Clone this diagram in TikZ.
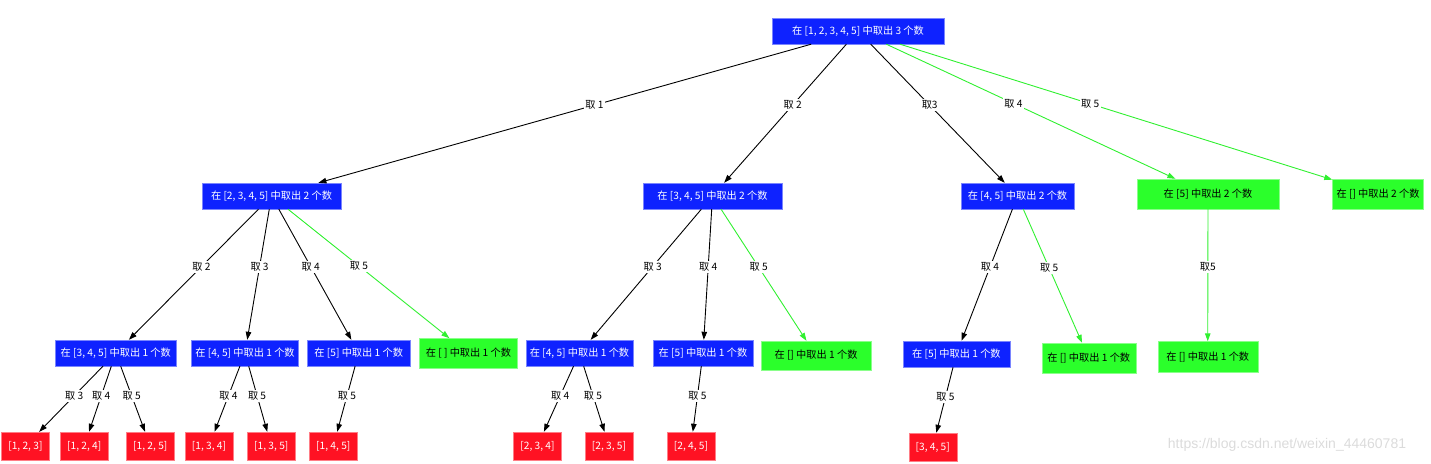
\documentclass[tikz,border=0pt]{standalone}
\usepackage{fontspec}
\newfontfamily\cjk{Noto Sans CJK SC}
\newfontfamily\wmfont{Liberation Sans}
\usepackage{tikz}
\usetikzlibrary{arrows.meta}
\definecolor{boxblue}{RGB}{14,34,255}
\definecolor{boxred}{RGB}{255,18,35}
\definecolor{boxgreen}{RGB}{43,255,43}
\definecolor{edgegreen}{RGB}{48,240,48}

\begin{document}
\begin{tikzpicture}[x=1pt,y=-1pt,
  every node/.style={font=\cjk\fontsize{10.2}{12}\selectfont},
  bluebox/.style={rectangle,fill=boxblue,draw=boxblue!55!white,text=white,minimum height=26pt,inner sep=0pt},
  greenbox/.style={rectangle,fill=boxgreen,draw=boxgreen!55!white,text=black,minimum height=30pt,inner sep=0pt},
  redbox/.style={rectangle,fill=boxred,draw=boxred!55!white,text=white,minimum width=48pt,minimum height=28pt,inner sep=0pt},
  pick/.style={line width=0.9pt,-{Triangle[length=8pt,width=5.5pt]}},
  pickg/.style={pick,draw=edgegreen},
  lbl/.style={fill=white,inner sep=1.5pt,pos=0.45,text=black}]
\useasboundingbox (0,0) rectangle (1431,463);

% root
\node[bluebox,minimum width=172pt] (root) at (858,31) {在 [1, 2, 3, 4, 5] 中取出 3 个数};

% level 1
\node[bluebox,minimum width=139pt] (A) at (271.5,196) {在 [2, 3, 4, 5] 中取出 2 个数};
\node[bluebox,minimum width=139pt] (B) at (712.5,196) {在 [3, 4, 5] 中取出 2 个数};
\node[bluebox,minimum width=113pt] (C) at (1017.5,196) {在 [4, 5] 中取出 2 个数};
\node[greenbox,minimum width=142pt] (D) at (1208,194) {在 [5] 中取出 2 个数};
\node[greenbox,minimum width=91pt] (E) at (1378,194) {在 [] 中取出 2 个数};

% level 2
\node[bluebox,minimum width=121pt] (A1) at (115.8,353) {在 [3, 4, 5] 中取出 1 个数};
\node[bluebox,minimum width=107pt] (A2) at (245,353) {在 [4, 5] 中取出 1 个数};
\node[bluebox,minimum width=103pt] (A3) at (358.7,353) {在 [5] 中取出 1 个数};
\node[greenbox,minimum width=98pt] (A4) at (468.4,353.4) {在 [ ] 中取出 1 个数};
\node[bluebox,minimum width=107pt] (B1) at (579.5,353) {在 [4, 5] 中取出 1 个数};
\node[bluebox,minimum width=100pt] (B2) at (703,353) {在 [5] 中取出 1 个数};
\node[greenbox,minimum width=110pt,minimum height=29pt] (B3) at (816,355.5) {在 [] 中取出 1 个数};
\node[bluebox,minimum width=107pt] (C1) at (956.4,354) {在 [5] 中取出 1 个数};
\node[greenbox,minimum width=94pt] (C2) at (1088.7,358) {在 [] 中取出 1 个数};
\node[greenbox,minimum width=100pt,minimum height=31pt] (D1) at (1207.7,357) {在 [] 中取出 1 个数};

% leaves
\node[redbox] (A11) at (25.4,446) {[1, 2, 3]};
\node[redbox] (A12) at (84.2,446) {[1, 2, 4]};
\node[redbox] (A13) at (150.3,446) {[1, 2, 5]};
\node[redbox] (A21) at (209,446) {[1, 3, 4]};
\node[redbox] (A22) at (271.3,446) {[1, 3, 5]};
\node[redbox] (A31) at (333.3,446) {[1, 4, 5]};
\node[redbox] (B11) at (537.5,446) {[2, 3, 4]};
\node[redbox] (B12) at (609,446) {[2, 3, 5]};
\node[redbox] (B21) at (691,446) {[2, 4, 5]};
\node[redbox] (C11) at (932.7,447) {[3, 4, 5]};

% edges
\draw[pick] (root) -- node[lbl,pos=0.44]{取 1} (A);
\draw[pick] (root) -- node[lbl,pos=0.44]{取 2} (B);
\draw[pick] (root) -- node[lbl,pos=0.44]{取3} (C);
\draw[pickg] (root) -- node[lbl,pos=0.44]{取 4} (D);
\draw[pickg] (root) -- node[lbl,pos=0.44]{取 5} (E);

\draw[pick] (A) -- node[lbl,pos=0.44]{取 2} (A1);
\draw[pick] (A) -- node[lbl,pos=0.44]{取 3} (A2);
\draw[pick] (A) -- node[lbl,pos=0.44]{取 4} (A3);
\draw[pickg] (A) -- node[lbl,pos=0.44]{取 5} (A4);
\draw[pick] (B) -- node[lbl,pos=0.44]{取 3} (B1);
\draw[pick] (B) -- node[lbl,pos=0.44]{取 4} (B2);
\draw[pickg] (B) -- node[lbl,pos=0.44]{取 5} (B3);
\draw[pick] (C) -- node[lbl,pos=0.44]{取 4} (C1);
\draw[pickg] (C) -- node[lbl,pos=0.44]{取 5} (C2);
\draw[pickg] (D) -- node[lbl,pos=0.44]{取5} (D1);

\draw[pick] (A1) -- node[lbl]{取 3} (A11);
\draw[pick] (A1) -- node[lbl]{取 4} (A12);
\draw[pick] (A1) -- node[lbl]{取 5} (A13);
\draw[pick] (A2) -- node[lbl]{取 4} (A21);
\draw[pick] (A2) -- node[lbl]{取 5} (A22);
\draw[pick] (A3) -- node[lbl]{取 5} (A31);
\draw[pick] (B1) -- node[lbl]{取 4} (B11);
\draw[pick] (B1) -- node[lbl]{取 5} (B12);
\draw[pick] (B2) -- node[lbl]{取 5} (B21);
\draw[pick] (C1) -- node[lbl]{取 5} (C11);

\node[text=gray!28,font=\wmfont\fontsize{14}{16}\selectfont] (wmark) at (1287,445) {https://blog.csdn.net/weixin\_44460781};
\end{tikzpicture}
\end{document}
